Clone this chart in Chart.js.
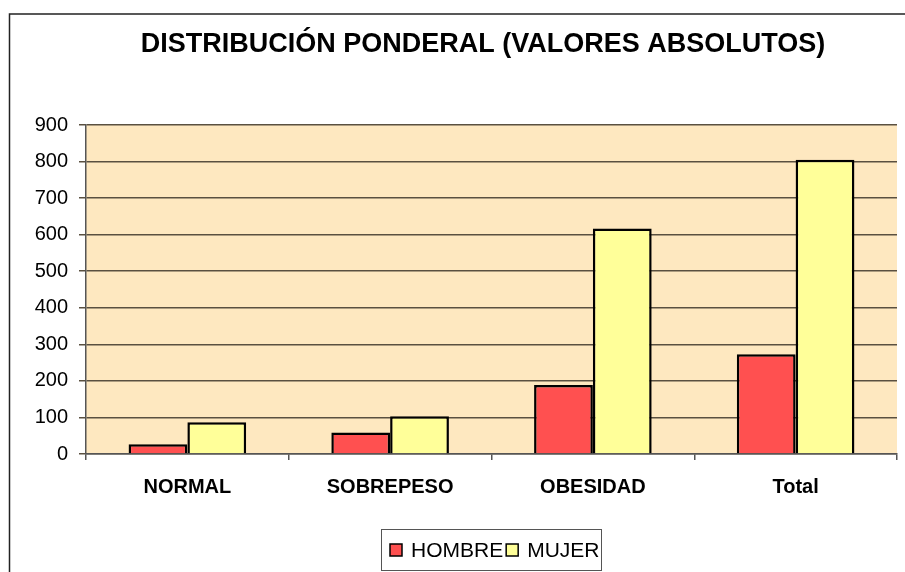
<!DOCTYPE html>
<html>
<head>
<meta charset="utf-8">
<script src="https://cdn.jsdelivr.net/npm/chart.js@4/dist/chart.umd.min.js"></script>
<style>
  body { margin: 0; background: #fff; }
  #wrap { width: 905px; height: 572px; }
</style>
</head>
<body>
<div id="wrap"><canvas id="chart" width="905" height="572"></canvas></div>
<script>
// datos del gráfico
const categories = ['NORMAL', 'SOBREPESO', 'OBESIDAD', 'Total'];
const hombre = [27, 59, 189, 273];
const mujer = [87, 103, 617, 805];
const seriesNames = ['HOMBRE', 'MUJER'];
const titleText = 'DISTRIBUCIÓN PONDERAL (VALORES ABSOLUTOS)';

const FONT = '"Liberation Sans", Arial, sans-serif';

// fondo del área, marco exterior, título y leyenda
const decor = {
  id: 'decor',
  beforeDraw(chart) {
    const { ctx, chartArea: a } = chart;
    ctx.save();
    ctx.fillStyle = '#FEE8C0';
    ctx.fillRect(a.left, a.top, a.right - a.left, a.bottom - a.top);
    ctx.restore();
  },
  afterDraw(chart) {
    const { ctx } = chart;
    ctx.save();
    // marco
    ctx.strokeStyle = '#222';
    ctx.lineWidth = 1.5;
    ctx.beginPath();
    ctx.moveTo(9.5, 580);
    ctx.lineTo(9.5, 14);
    ctx.lineTo(910, 14);
    ctx.stroke();

    // título
    ctx.fillStyle = '#000';
    ctx.font = 'bold 27px ' + FONT;
    ctx.textAlign = 'center';
    ctx.textBaseline = 'middle';
    ctx.fillText(titleText, 483, 45);

    // leyenda
    ctx.strokeStyle = '#555';
    ctx.lineWidth = 1;
    ctx.strokeRect(381.5, 529.5, 220, 41);
    ctx.font = '21px ' + FONT;
    ctx.textAlign = 'left';
    let x = 390;
    chart.data.datasets.forEach((ds) => {
      ctx.fillStyle = ds.backgroundColor;
      ctx.fillRect(x, 544, 12, 12);
      ctx.strokeStyle = '#000';
      ctx.lineWidth = 1.5;
      ctx.strokeRect(x, 544, 12, 12);
      ctx.fillStyle = '#000';
      ctx.fillText(ds.label, x + 21, 551);
      x += 21 + ctx.measureText(ds.label).width + 3;
    });
    ctx.restore();
  },
};

new Chart(document.getElementById('chart'), {
  type: 'bar',
  data: {
    labels: categories,
    datasets: [
      {
        label: seriesNames[0],
        data: hombre,
        backgroundColor: '#FF5050',
        borderColor: '#000',
        borderWidth: 2.5,
      },
      {
        label: seriesNames[1],
        data: mujer,
        backgroundColor: '#FFFF99',
        borderColor: '#000',
        borderWidth: 2.5,
      },
    ],
  },
  options: {
    responsive: false,
    animation: false,
    layout: { padding: { left: 0, right: 8, top: 125, bottom: 58 } },
    datasets: { bar: { categoryPercentage: 0.58, barPercentage: 1 } },
    plugins: {
      legend: { display: false },
      title: { display: false },
      tooltip: { enabled: false },
    },
    scales: {
      x: {
        afterFit(scale) { scale.height = 60; },
        grid: {
          offset: true,
          drawOnChartArea: false,
          drawTicks: true,
          tickLength: 6,
          color: '#555',
          lineWidth: 1.5,
        },
        border: { color: '#555', width: 1.5 },
        ticks: {
          color: '#000',
          padding: 15,
          font: { family: FONT, size: 20, weight: 'bold' },
        },
      },
      y: {
        min: 0,
        max: 900,
        afterFit(scale) { scale.width = 86; },
        grid: {
          color: '#5a5040',
          lineWidth: 1.5,
          tickLength: 7,
        },
        border: { color: '#555', width: 1.5 },
        ticks: {
          stepSize: 100,
          color: '#000',
          padding: 11,
          font: { family: FONT, size: 20 },
        },
      },
    },
  },
  plugins: [decor],
});
</script>
</body>
</html>
